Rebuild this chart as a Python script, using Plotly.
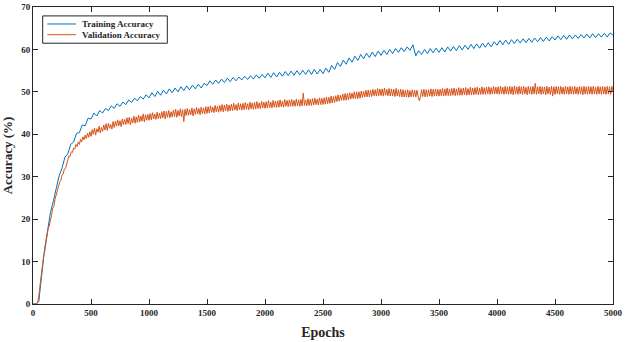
import plotly.graph_objects as go

# ---------------- data ----------------
train_epochs = list(range(0, 5001, 25))
val_epochs = list(range(0, 5001, 10))

training_acc = [
    0, 0, 0.6, 7.2, 13.0, 17.2, 21.5, 24.2, 27.0, 30.2, 32.0, 34.6, 35.4, 37.6, 38.2, 40.2, 40.4, 42.2, 42.0, 43.8,
    43.6, 45.0, 44.3, 45.6, 45.0, 46.1, 45.6, 46.7, 46.1, 47.2, 46.6, 47.6, 47.0, 48.1, 47.5, 48.5, 47.9, 48.9, 48.3, 49.3,
    48.6, 49.8, 48.9, 50.1, 49.2, 50.4, 49.5, 50.7, 49.8, 50.9, 50.0, 51.2, 50.3, 51.4, 50.5, 51.6, 50.7, 51.8, 50.9, 52.0,
    51.5, 52.6, 51.8, 52.8, 52.0, 53.0, 52.2, 53.2, 52.4, 53.4, 52.6, 53.5, 52.8, 53.7, 52.9, 53.8, 53.0, 54.0, 53.2, 54.1,
    53.3, 54.4, 53.4, 54.5, 53.5, 54.6, 53.7, 54.8, 53.8, 54.9, 53.9, 55.0, 54.0, 55.1, 54.1, 55.2, 54.1, 55.3, 54.2, 55.3,
    54.3, 55.6, 54.6, 56.2, 55.3, 56.9, 56.0, 57.5, 56.5, 58.0, 57.0, 58.4, 57.4, 58.8, 57.8, 59.1, 58.1, 59.4, 58.3, 59.6,
    58.6, 59.8, 58.8, 60.0, 59.0, 60.2, 59.3, 60.4, 59.5, 60.6, 59.8, 61.1, 58.5, 59.7, 58.8, 60.0, 59.0, 60.2, 59.2, 60.3,
    59.3, 60.4, 59.4, 60.6, 59.6, 60.7, 59.7, 60.9, 59.9, 61.0, 60.0, 61.2, 60.2, 61.3, 60.3, 61.5, 60.5, 61.6, 60.6, 61.8,
    61.0, 62.1, 61.1, 62.2, 61.2, 62.3, 61.4, 62.4, 61.5, 62.5, 61.6, 62.6, 61.7, 62.7, 61.8, 62.8, 61.9, 62.9, 62.0, 63.0,
    62.2, 63.2, 62.3, 63.3, 62.4, 63.4, 62.5, 63.4, 62.6, 63.5, 62.7, 63.6, 62.7, 63.7, 62.8, 63.7, 62.9, 63.8, 62.9, 63.9,
    63.4,
]

validation_acc = [
    0, 0, 0, 0, 0.3, 1.8, 4.3, 7.0, 9.4, 11.0,
    12.3, 14.4, 15.6, 17.6, 18.4, 20.2, 20.9, 22.6, 23.0, 24.7,
    25.8, 27.0, 27.6, 28.7, 29.1, 30.4, 30.6, 31.8, 31.9, 33.1,
    33.6, 34.9, 34.8, 35.9, 35.7, 36.8, 36.5, 37.6, 37.1, 38.2,
    37.6, 38.8, 38.2, 39.4, 38.7, 39.8, 39.0, 40.3, 39.3, 40.6,
    39.5, 41.1, 40.0, 41.5, 39.8, 41.3, 40.5, 41.9, 40.3, 41.6,
    40.7, 42.2, 41.0, 42.5, 40.9, 42.6, 41.4, 42.3, 41.2, 43.0,
    41.6, 43.1, 41.9, 43.4, 42.0, 43.2, 41.8, 43.6, 42.3, 43.5,
    42.3, 43.9, 42.5, 44.0, 42.2, 43.8, 42.7, 44.3, 42.6, 44.1,
    42.8, 44.5, 42.9, 44.3, 43.1, 44.8, 42.9, 44.6, 43.3, 44.7,
    43.3, 44.9, 43.4, 45.1, 43.6, 44.8, 43.5, 45.2, 43.7, 45.0,
    43.7, 45.3, 43.9, 45.5, 43.6, 45.4, 44.0, 45.6, 43.9, 45.3,
    44.1, 45.7, 44.2, 45.9, 44.0, 45.6, 44.3, 46.0, 44.2, 45.8,
    43.0, 45.9, 44.4, 46.1, 44.5, 45.8, 44.6, 46.2, 44.3, 46.0,
    44.7, 46.3, 44.8, 46.1, 44.6, 46.4, 44.9, 46.2, 44.8, 46.5,
    44.9, 46.5, 45.0, 46.7, 45.2, 46.4, 45.1, 46.8, 45.3, 46.6,
    45.2, 46.8, 45.4, 47.0, 45.3, 46.9, 45.5, 47.1, 45.4, 46.9,
    45.5, 47.1, 45.6, 47.3, 45.7, 47.0, 45.6, 47.4, 45.8, 47.2,
    45.7, 47.3, 45.8, 47.5, 45.9, 47.2, 45.8, 47.6, 46.0, 47.4,
    45.9, 47.5, 46.0, 47.7, 46.1, 47.4, 46.0, 47.8, 46.2, 47.6,
    46.1, 47.7, 46.2, 47.9, 46.3, 47.6, 46.2, 48.0, 46.4, 47.8,
    46.3, 47.9, 46.4, 48.1, 46.5, 47.8, 46.4, 48.2, 46.6, 48.0,
    46.5, 48.1, 46.6, 48.2, 46.6, 48.0, 46.6, 48.3, 46.7, 48.1,
    46.6, 48.2, 46.7, 49.7, 46.8, 48.1, 46.7, 48.4, 46.8, 48.3,
    46.8, 48.4, 46.9, 48.5, 47.0, 48.3, 46.9, 48.6, 47.0, 48.5,
    47.0, 48.6, 47.1, 48.8, 47.2, 48.7, 47.3, 49.0, 47.4, 48.9,
    47.5, 49.1, 47.7, 49.3, 47.8, 49.2, 48.0, 49.5, 48.0, 49.6,
    48.0, 49.6, 48.1, 49.8, 48.3, 49.7, 48.4, 50.0, 48.4, 50.0,
    48.4, 50.0, 48.5, 50.2, 48.7, 50.1, 48.8, 50.4, 48.8, 50.4,
    48.8, 50.4, 48.9, 50.6, 49.1, 50.5, 49.0, 50.8, 49.1, 50.7,
    49.1, 50.7, 49.0, 50.9, 49.2, 50.6, 49.1, 50.8, 49.0, 50.7,
    49.0, 50.6, 48.9, 50.8, 49.0, 50.5, 48.9, 50.6, 48.8, 50.5,
    48.8, 50.4, 48.8, 50.5, 48.7, 50.3, 48.8, 50.5, 48.9, 50.4,
    48.8, 50.4, 48.9, 47.9, 48.8, 50.5, 48.9, 50.6, 48.8, 50.5,
    48.9, 50.5, 49.0, 50.7, 48.9, 50.6, 49.0, 50.7, 49.0, 50.6,
    49.0, 50.6, 49.1, 50.8, 49.0, 50.7, 49.1, 50.9, 49.1, 50.7,
    49.1, 50.8, 49.2, 50.9, 49.1, 50.7, 49.2, 51.0, 49.2, 50.8,
    49.2, 50.9, 49.3, 51.0, 49.2, 50.8, 49.3, 51.1, 49.3, 50.9,
    49.3, 51.0, 49.4, 51.1, 49.3, 50.9, 49.4, 51.2, 49.4, 51.0,
    49.4, 51.1, 49.5, 51.2, 49.4, 51.0, 49.5, 51.3, 49.5, 51.1,
    49.5, 51.2, 49.4, 51.3, 49.5, 51.1, 49.4, 51.3, 49.5, 51.2,
    49.4, 51.3, 49.5, 51.2, 49.3, 51.4, 49.5, 51.2, 49.4, 51.3,
    49.5, 51.2, 49.4, 51.3, 49.5, 51.1, 49.3, 51.3, 49.5, 51.2,
    49.4, 51.3, 49.5, 52.0, 49.4, 51.2, 49.5, 51.3, 49.4, 51.2,
    49.5, 51.2, 49.3, 51.3, 49.5, 51.1, 49.4, 51.3, 49.0, 51.2,
    49.4, 51.3, 49.5, 51.2, 49.4, 51.3, 49.5, 51.1, 49.4, 51.3,
    49.5, 51.2, 49.4, 51.3, 49.5, 51.2, 49.4, 51.3, 49.5, 51.1,
    49.4, 51.3, 49.5, 51.2, 49.3, 51.3, 49.5, 51.2, 49.4, 51.3,
    49.5, 51.2, 49.4, 51.3, 49.5, 51.1, 49.4, 51.3, 49.5, 51.2,
    49.4, 51.3, 49.5, 51.2, 49.4, 51.3, 49.5, 51.2, 49.4, 51.3,
    50.2,
]

series_names = ["Training Accuracy", "Validation Accuracy"]
series_colors = ["#0072BD", "#D95319"]

x_ticks = [0, 500, 1000, 1500, 2000, 2500, 3000, 3500, 4000, 4500, 5000]
y_ticks = [0, 10, 20, 30, 40, 50, 60, 70]

# ---------------- styling ----------------
FONT = "Liberation Serif"
AX = "#262626"

fig = go.Figure()
fig.add_trace(go.Scatter(x=train_epochs, y=training_acc, mode="lines", name=series_names[0],
                         line=dict(color=series_colors[0], width=1), showlegend=False))
fig.add_trace(go.Scatter(x=val_epochs, y=validation_acc, mode="lines", name=series_names[1],
                         line=dict(color=series_colors[1], width=1), showlegend=False))

axis_common = dict(showline=True, linecolor=AX, linewidth=1, mirror="ticks", ticks="inside",
                   ticklen=5, tickcolor=AX, showgrid=False, zeroline=False, automargin=False,
                   tickfont=dict(family=FONT, size=9, color=AX, weight="bold"))

fig.update_xaxes(range=[0, 5000], tickvals=x_ticks, ticktext=[str(v) for v in x_ticks],
                 title=dict(text="Epochs", font=dict(family=FONT, size=14, color=AX, weight="bold"), standoff=10),
                 **axis_common)
fig.update_yaxes(range=[0, 70], tickvals=y_ticks, ticktext=[str(v) for v in y_ticks],
                 title=dict(text="Accuracy (%)", font=dict(family=FONT, size=13, color=AX, weight="bold"), standoff=8),
                 **axis_common)

# legend box (MATLAB style, compact)
legend_box = dict(x0=0.0167, x1=0.2316, y0=0.878, y1=0.970)
legend_rows_y = [0.9428, 0.9067]
legend_line_x = [0.0247, 0.0741]
legend_text_x = 0.081

shapes = [dict(type="rect", xref="paper", yref="paper", layer="above",
               line=dict(color=AX, width=1), fillcolor="white", **legend_box)]
annotations = []
for name, color, ry in zip(series_names, series_colors, legend_rows_y):
    shapes.append(dict(type="line", xref="paper", yref="paper", layer="above",
                       x0=legend_line_x[0], x1=legend_line_x[1], y0=ry, y1=ry,
                       line=dict(color=color, width=1)))
    annotations.append(dict(text=name, xref="paper", yref="paper", x=legend_text_x, y=ry,
                            xanchor="left", yanchor="middle", showarrow=False,
                            font=dict(family=FONT, size=9, color=AX, weight="bold")))

fig.update_layout(
    width=629, height=342,
    margin=dict(l=33, r=16, t=7, b=38, autoexpand=False),
    paper_bgcolor="white", plot_bgcolor="white",
    shapes=shapes, annotations=annotations,
    showlegend=False,
)

fig.write_html("out.html")
